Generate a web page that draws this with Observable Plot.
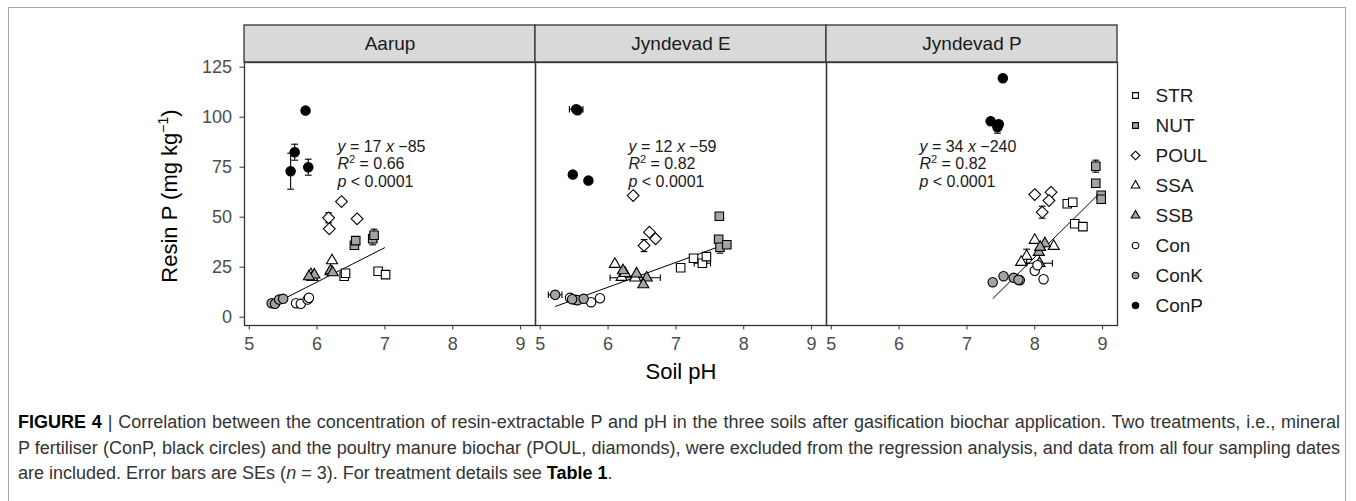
<!DOCTYPE html>
<html>
<head>
<meta charset="utf-8">
<script src="https://cdn.jsdelivr.net/npm/d3@7"></script>
<script src="https://cdn.jsdelivr.net/npm/@observablehq/plot@0.6"></script>
<style>
  html, body { margin: 0; padding: 0; background: #fff; }
  body { font-family: "Liberation Sans", Arial, sans-serif; width: 1356px; height: 501px; overflow: hidden; position: relative; }
  #frame { position: absolute; left: 8px; top: 7px; width: 1338px; height: 700px; border: 1px solid #a9a9a9; box-sizing: border-box; }
  #chart { position: absolute; left: 0; top: 0; }
  #legend { position: absolute; left: 1120px; top: 0; }
  #ylabel { position: absolute; left: 20px; top: 183px; width: 300px; height: 26px; line-height: 26px; text-align: center;
            font-size: 22px; color: #000; transform: rotate(-90deg); white-space: nowrap; }
  #ylabel sup { font-size: 14px; vertical-align: 9px; line-height: 0; }
  #xlabel { position: absolute; left: 581px; top: 359px; width: 200px; height: 26px; line-height: 26px; text-align: center;
            font-size: 22px; color: #000; }
  .cap { position: absolute; left: 18px; width: 1322px; font-size: 18px; line-height: 22px; color: #333; white-space: nowrap; }
  .just { text-align: justify; text-align-last: justify; white-space: normal; }
</style>
</head>
<body>
<div id="frame"></div>
<div id="chart"></div>
<div id="legend"></div>
<div id="ylabel">Resin P (mg kg<sup>−1</sup>)</div>
<div id="xlabel">Soil pH</div>
<div class="cap just" style="top:411px"><b style="color:#000">FIGURE 4</b> | Correlation between the concentration of resin-extractable P and pH in the three soils after gasification biochar application. Two treatments, i.e., mineral</div>
<div class="cap just" style="top:437px">P fertiliser (ConP, black circles) and the poultry manure biochar (POUL, diamonds), were excluded from the regression analysis, and data from all four sampling dates</div>
<div class="cap" style="top:462px">are included. Error bars are SEs (<i>n</i> = 3). For treatment details see <b style="color:#000">Table 1</b>.</div>

<script>
// ---------------- data ----------------
const sites = ["Aarup", "Jyndevad E", "Jyndevad P"];
const treatments = ["STR", "NUT", "POUL", "SSA", "SSB", "Con", "ConK", "ConP"];
// four sampling dates per treatment, in the order of `treatments`
const aarupPH = [6.40, 6.42, 6.90, 7.01,  6.55, 6.57, 6.82, 6.84,  6.36, 6.17, 6.18, 6.59,  6.22, 5.91, 6.20, 5.93,  5.96, 6.20, 6.23, 5.88,  5.69, 5.76, 5.86, 5.88,  5.33, 5.38, 5.44, 5.50,  5.83, 5.67, 5.61, 5.87];
const aarupP  = [20.5, 22.0, 23.0, 21.3,  36.0, 38.3, 39.2, 41.0,  57.8, 49.7, 44.2, 49.2,  28.3, 21.3, 22.8, 20.0,  21.2, 23.3, 22.3, 20.3,   7.0,  6.7,  8.8,  9.7,   7.0,  6.7,  8.8,  9.2, 103.3, 82.5, 73.0, 75.0];
const aarupSeP  = [0,0,0,0, 0,0,3,3, 0,2.5,0,0, 0,0,0,0, 0,0,0,0, 0,0,0,0, 0,0,0,0, 0,4,9,4];
const aarupSePH = [0,0,0,0, 0,0,0,0, 0,0,0,0, 0,0,0,0, 0,0,0,0, 0,0,0,0, 0,0,0,0, 0,0,0,0];

const jynEPH = [7.07, 7.26, 7.39, 7.45,  7.64, 7.63, 7.65, 7.75,  6.37, 6.61, 6.70, 6.53,  6.10, 6.20, 6.40, 6.25,  6.22, 6.42, 6.57, 6.52,  5.44, 5.52, 5.75, 5.88,  5.22, 5.55, 5.64, 5.47,  5.53, 5.55, 5.48, 5.71];
const jynEP  = [24.7, 29.5, 27.0, 30.3,  50.5, 39.0, 35.0, 36.2,  60.8, 42.5, 39.2, 35.8,  26.5, 20.0, 19.7, 22.0,  23.3, 21.7, 19.7, 16.3,   9.7,  8.7,  7.5,  9.5,  11.2,  8.5,  9.2,  9.0, 104.0, 103.5, 71.3, 68.3];
const jynESeP  = [0,0,0,0, 0,0,3,0, 0,0,0,3, 0,0,0,0, 0,0,0,0, 0,0,0,0, 0,0,0,0, 0,0,0,0];
const jynESePH = [0,0,0.12,0, 0,0,0,0, 0,0,0,0, 0,0,0.37,0, 0,0,0,0, 0,0,0,0, 0.1,0,0,0, 0.1,0,0,0];

const jynPPH = [8.48, 8.56, 8.59, 8.71,  8.90, 8.90, 8.98, 8.98,  8.00, 8.24, 8.21, 8.11,  8.00, 8.28, 7.88, 7.80,  8.15, 8.06, 8.07, 8.08,  7.78, 8.00, 8.13, 8.04,  7.38, 7.54, 7.69, 7.76,  7.53, 7.35, 7.45, 7.47];
const jynPP  = [56.7, 57.5, 46.7, 45.3,  75.5, 67.0, 61.0, 59.0,  61.3, 62.5, 58.3, 52.5,  38.5, 35.5, 30.5, 27.5,  36.8, 32.5, 27.0, 35.0,  18.5, 23.2, 19.0, 26.0,  17.5, 20.5, 19.7, 18.7, 119.5, 98.0, 95.0, 96.5];
const jynPSeP  = [0,0,0,0, 3,0,0,2, 0,0,0,3, 0,0,3.5,0, 0,0,0,0, 0,0,0,0, 0,0,0,2, 0,0,3,0];
const jynPSePH = [0,0,0,0, 0,0,0,0, 0,0,0,0, 0,0,0,0, 0,0,0.19,0, 0,0,0,0, 0,0,0,0, 0,0,0,0];

// regression fits (excluding ConP and POUL)
const fitSlope = [17.2, 12.4, 33.5];
const fitIntercept = [-85.6, -59.4, -238];
const fitFrom = [5.50, 5.22, 7.38];
const fitTo = [7.00, 7.65, 8.98];
const fitLabels = [
  ["y = 17 x −85", "R2 = 0.66", "p < 0.0001"],
  ["y = 12 x −59", "R2 = 0.82", "p < 0.0001"],
  ["y = 34 x −240", "R2 = 0.82", "p < 0.0001"]
];
const xTicks = [5, 6, 7, 8, 9];
const yTicks = [0, 25, 50, 75, 100, 125];

// ---------------- styles ----------------
const symbolRange = ["square", "square", "diamond2", "triangle", "triangle", "circle", "circle", "circle"];
const fillRange = ["#ffffff", "#a3a3a3", "#ffffff", "#ffffff", "#a3a3a3", "#ffffff", "#a3a3a3", "#000000"];
const rBySymbol = {square: 4.8, diamond2: 5.3, triangle: 4.1, circle: 4.7};
const rLegend = {square: 3.3, diamond2: 3.9, triangle: 3.2, circle: 3.3};

// ---------------- build table ----------------
const allPH = [aarupPH, jynEPH, jynPPH];
const allP = [aarupP, jynEP, jynPP];
const allSeP = [aarupSeP, jynESeP, jynPSeP];
const allSePH = [aarupSePH, jynESePH, jynPSePH];
const rows = [];
sites.forEach((site, s) => {
  allPH[s].forEach((ph, i) => {
    const t = treatments[Math.floor(i / 4)];
    rows.push({site, treatment: t, pH: ph, P: allP[s][i], seP: allSeP[s][i], sePH: allSePH[s][i],
               sym: symbolRange[treatments.indexOf(t)]});
  });
});
const errY = rows.filter(d => d.seP > 0);
const errX = rows.filter(d => d.sePH > 0);

const xDom = [4.93, 9.22];
const yDom = [-4.15, 127.35];
const stripH = 18.5;
const ink = "#000";

const dotMarks = Object.keys(rBySymbol).map(sym =>
  Plot.dot(rows.filter(d => d.sym === sym), {fx: "site", x: "pH", y: "P", symbol: "treatment", fill: "treatment",
    r: rBySymbol[sym], stroke: ink, strokeWidth: 1.1}));

const chart = Plot.plot({
  width: 1356, height: 400,
  marginLeft: 244, marginRight: 239, marginTop: 62, marginBottom: 75,
  style: {fontFamily: "'Liberation Sans', Arial, sans-serif", background: "transparent", overflow: "visible"},
  fx: {domain: sites, padding: 0, axis: null},
  x: {domain: xDom},
  y: {domain: yDom},
  symbol: {domain: treatments, range: symbolRange},
  color: {domain: treatments, range: fillRange},
  marks: [
    Plot.rect(sites, {fx: d => d, x1: xDom[0], x2: xDom[1], y1: yDom[1], y2: yDom[1] + stripH,
      fill: "#d9d9d9", stroke: "#333", strokeWidth: 1.3}),
    Plot.text(sites, {fx: d => d, x: (xDom[0] + xDom[1]) / 2, y: yDom[1] + stripH / 2, text: d => d,
      fontSize: 19, fill: "#1a1a1a"}),
    Plot.frame({stroke: "#333", strokeWidth: 1.3}),
    Plot.axisX({ticks: xTicks, tickFormat: d3.format("d"), tickSize: 4.5, tickPadding: 7, fontSize: 18, fill: "#4d4d4d", stroke: "#333", label: null}),
    Plot.axisY({ticks: yTicks, tickFormat: d3.format("d"), tickSize: 4.5, tickPadding: 8, fontSize: 18, fill: "#4d4d4d", stroke: "#333", label: null}),
    // regression lines
    Plot.link(sites, {fx: d => d,
      x1: (d, i) => fitFrom[i], x2: (d, i) => fitTo[i],
      y1: (d, i) => fitSlope[i] * fitFrom[i] + fitIntercept[i],
      y2: (d, i) => fitSlope[i] * fitTo[i] + fitIntercept[i],
      stroke: ink, strokeWidth: 1}),
    // vertical error bars
    Plot.ruleX(errY, {fx: "site", x: "pH", y1: d => d.P - d.seP, y2: d => d.P + d.seP, stroke: ink, strokeWidth: 1.1}),
    Plot.link(errY, {fx: "site", x1: d => d.pH - 0.05, x2: d => d.pH + 0.05, y1: d => d.P + d.seP, y2: d => d.P + d.seP, stroke: ink, strokeWidth: 1.1}),
    Plot.link(errY, {fx: "site", x1: d => d.pH - 0.05, x2: d => d.pH + 0.05, y1: d => d.P - d.seP, y2: d => d.P - d.seP, stroke: ink, strokeWidth: 1.1}),
    // horizontal error bars
    Plot.ruleY(errX, {fx: "site", y: "P", x1: d => d.pH - d.sePH, x2: d => d.pH + d.sePH, stroke: ink, strokeWidth: 1.1}),
    Plot.link(errX, {fx: "site", x1: d => d.pH - d.sePH, x2: d => d.pH - d.sePH, y1: d => d.P - 1.6, y2: d => d.P + 1.6, stroke: ink, strokeWidth: 1.1}),
    Plot.link(errX, {fx: "site", x1: d => d.pH + d.sePH, x2: d => d.pH + d.sePH, y1: d => d.P - 1.6, y2: d => d.P + 1.6, stroke: ink, strokeWidth: 1.1}),
    // points
    ...dotMarks,
    // fit annotations
    Plot.text(sites, {fx: d => d, x: 6.3, y: 89, text: (d, i) => fitLabels[i].join("\n"),
      textAnchor: "start", lineAnchor: "top", lineHeight: 1.1, fontSize: 16, fill: "#1a1a1a"})
  ]
});
document.getElementById("chart").appendChild(chart);

// italic symbols and superscript in the fit annotations
const SVGNS = "http://www.w3.org/2000/svg";
chart.querySelectorAll("tspan").forEach(ts => {
  const s = ts.textContent;
  if (!/^(y =|R2 =|p <)/.test(s)) return;
  ts.textContent = "";
  let pending = 0;
  const add = (t, opts = {}) => {
    const e = document.createElementNS(SVGNS, "tspan");
    e.textContent = t;
    if (opts.italic) e.setAttribute("font-style", "italic");
    const dy = (opts.dy || 0) + pending;
    pending = 0;
    if (dy) e.setAttribute("dy", dy);
    if (opts.fs) e.setAttribute("font-size", opts.fs);
    ts.appendChild(e);
  };
  s.split(/(R2|\b[yxp]\b)/).filter(Boolean).forEach(part => {
    if (part === "R2") { add("R", {italic: true}); add("2", {dy: -6, fs: 11}); pending = 6; }
    else if (/^[yxp]$/.test(part)) add(part, {italic: true});
    else add(part);
  });
});

// legend
const legendMarks = Object.keys(rLegend).map(sym =>
  Plot.dot(treatments.filter((t, i) => symbolRange[i] === sym), {x: 0, y: d => d, symbol: d => d, fill: d => d,
    r: rLegend[sym], dx: 15, stroke: ink, strokeWidth: 1.1}));
const legend = Plot.plot({
  width: 236, height: 400, margin: 0,
  style: {fontFamily: "'Liberation Sans', Arial, sans-serif", background: "transparent"},
  x: {domain: [0, 1], range: [0, 236], axis: null},
  y: {type: "point", domain: treatments, range: [93, 307], padding: 0, axis: null},
  symbol: {domain: treatments, range: symbolRange},
  color: {domain: treatments, range: fillRange},
  marks: [
    ...legendMarks,
    Plot.text(treatments, {x: 0, y: d => d, text: d => d, dx: 35, textAnchor: "start", fontSize: 19, fill: "#1a1a1a"})
  ]
});
document.getElementById("legend").appendChild(legend);
</script>
</body>
</html>
